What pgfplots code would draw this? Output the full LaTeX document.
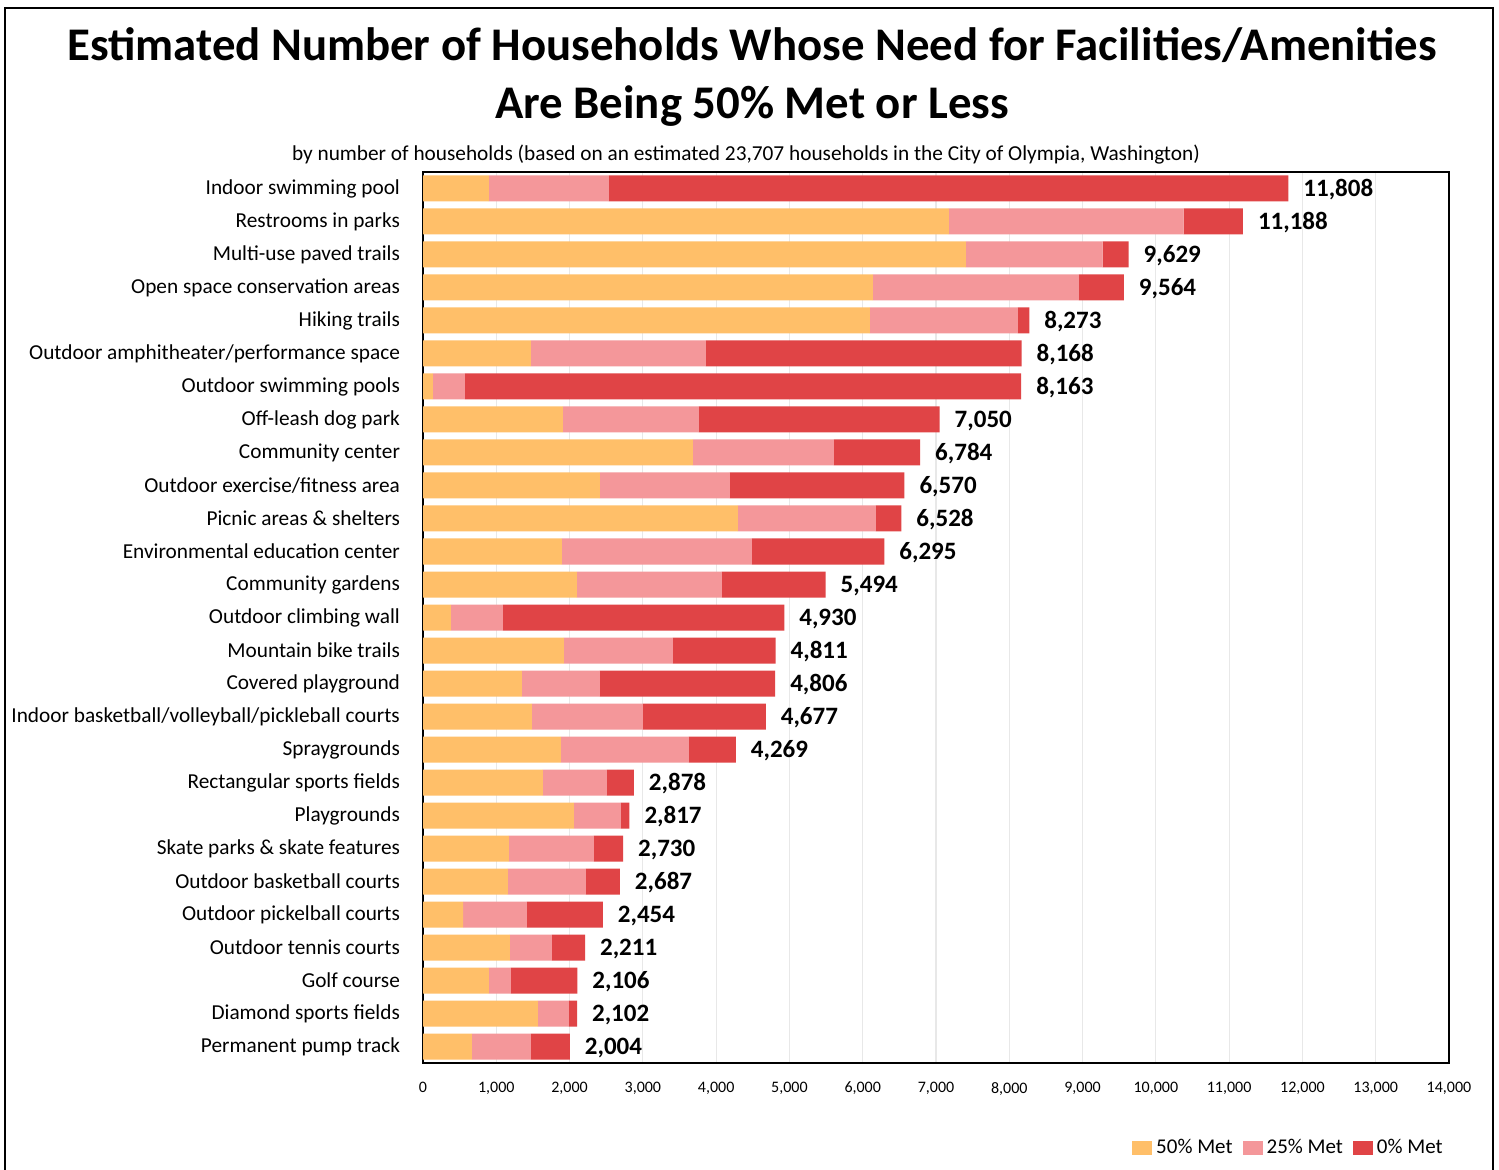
\documentclass[border=0pt]{standalone}
\usepackage{pgfplots}
\pgfplotsset{compat=1.18}
\usepackage{pgfplotstable}
\usepackage{fontspec}
\setmainfont{Carlito}
\definecolor{cY}{HTML}{FFBF69}
\definecolor{cP}{HTML}{F4979A}
\definecolor{cR}{HTML}{E04446}

\pgfplotstableread{
y a b c t lab
0 900 1637 9271 11808 11,808
1 7175 3205 808 11188 11,188
2 7407 1868 354 9629 9,629
3 6138 2810 616 9564 9,564
4 6097 2019 157 8273 8,273
5 1473 2387 4308 8168 8,168
6 136 437 7590 8163 8,163
7 1910 1855 3285 7050 7,050
8 3683 1923 1178 6784 6,784
9 2414 1773 2383 6570 6,570
10 4297 1882 349 6528 6,528
11 1896 2592 1807 6295 6,295
12 2101 1977 1416 5494 5,494
13 382 709 3839 4930 4,930
14 1923 1487 1401 4811 4,811
15 1350 1064 2392 4806 4,806
16 1487 1514 1676 4677 4,677
17 1882 1746 641 4269 4,269
18 1637 873 368 2878 2,878
19 2060 641 116 2817 2,817
20 1173 1159 398 2730 2,730
21 1159 1064 464 2687 2,687
22 546 873 1035 2454 2,454
23 1187 573 451 2211 2,211
24 900 300 906 2106 2,106
25 1569 422 111 2102 2,102
26 668 805 531 2004 2,004
}\data

\begin{document}
\begin{tikzpicture}
\useasboundingbox (0pt,0pt) rectangle (749.5pt,585pt);
\fill[white] (0pt,0pt) rectangle (749.5pt,585pt);
\draw[line width=1.3pt] (2.5pt,-1pt) -- (2.5pt,581pt) -- (746.5pt,581pt) -- (746.5pt,-1pt);
\node[font=\bfseries\fontsize{23.4}{28}\selectfont] at (376pt,562.5pt) {Estimated Number of Households Whose Need for Facilities/Amenities};
\node[font=\bfseries\fontsize{23.4}{28}\selectfont] at (376pt,532pt) {Are Being 50\% Met or Less};
\node[font=\fontsize{10.65}{12}\selectfont] at (373pt,507.5pt) {by number of households (based on an estimated 23,707 households in the City of Olympia, Washington)};
\begin{axis}[
  at={(211.5pt,53.5pt)}, anchor=south west,
  width=513pt, height=445.5pt, scale only axis,
  xbar stacked, bar width=13pt,
  xmin=0, xmax=14000, ymin=-0.5, ymax=26.5, y dir=reverse,
  xtick={0,1000,...,14000}, scaled x ticks=false,
  ytick={0,...,26},
  yticklabels={Indoor swimming pool,Restrooms in parks,Multi-use paved trails,Open space conservation areas,Hiking trails,Outdoor amphitheater/performance space,Outdoor swimming pools,Off-leash dog park,Community center,Outdoor exercise/fitness area,Picnic areas \& shelters,Environmental education center,Community gardens,Outdoor climbing wall,Mountain bike trails,Covered playground,Indoor basketball/volleyball/pickleball courts,Spraygrounds,Rectangular sports fields,Playgrounds,Skate parks \& skate features,Outdoor basketball courts,Outdoor pickelball courts,Outdoor tennis courts,Golf course,Diamond sports fields,Permanent pump track},
  major tick length=0,
  xmajorgrids, grid style={gray!18, line width=0.6pt},
  axis line style={black, line width=1.1pt},
  /pgf/number format/assume math mode=true,
  /pgf/number format/1000 sep={,},
  xticklabel style={font=\fontsize{8}{9}\selectfont, yshift=-6pt},
  yticklabel style={font=\fontsize{10.65}{12}\selectfont, xshift=-8pt},
  legend style={at={(1.004,-0.095)}, anchor=east, draw=none, fill=none, legend columns=-1,
    font=\fontsize{10.5}{12}\selectfont,
    /tikz/every even column/.append style={column sep=3pt}},
  legend image code/.code={\fill[#1] (0pt,-3.5pt) rectangle (10pt,3.5pt);},
]
\addplot[fill=cY, draw=none] table[x=a, y=y] {\data};
\addplot[fill=cP, draw=none] table[x=b, y=y] {\data};
\addplot[fill=cR, draw=none] table[x=c, y=y] {\data};
\legend{50\% Met, 25\% Met, 0\% Met}
\end{axis}
\begin{axis}[
  at={(211.5pt,53.5pt)}, anchor=south west,
  width=513pt, height=445.5pt, scale only axis,
  xmin=0, xmax=14000, ymin=-0.5, ymax=26.5, y dir=reverse,
  hide axis, clip=false,
]
\addplot[draw=none, mark=none, point meta=explicit symbolic,
  nodes near coords,
  every node near coord/.append style={font=\bfseries\fontsize{12.5}{14}\selectfont, anchor=west, xshift=4pt, yshift=-0.5pt, text=black}]
  table[x=t, y=y, meta=lab] {\data};
\end{axis}
\end{tikzpicture}
\end{document}
